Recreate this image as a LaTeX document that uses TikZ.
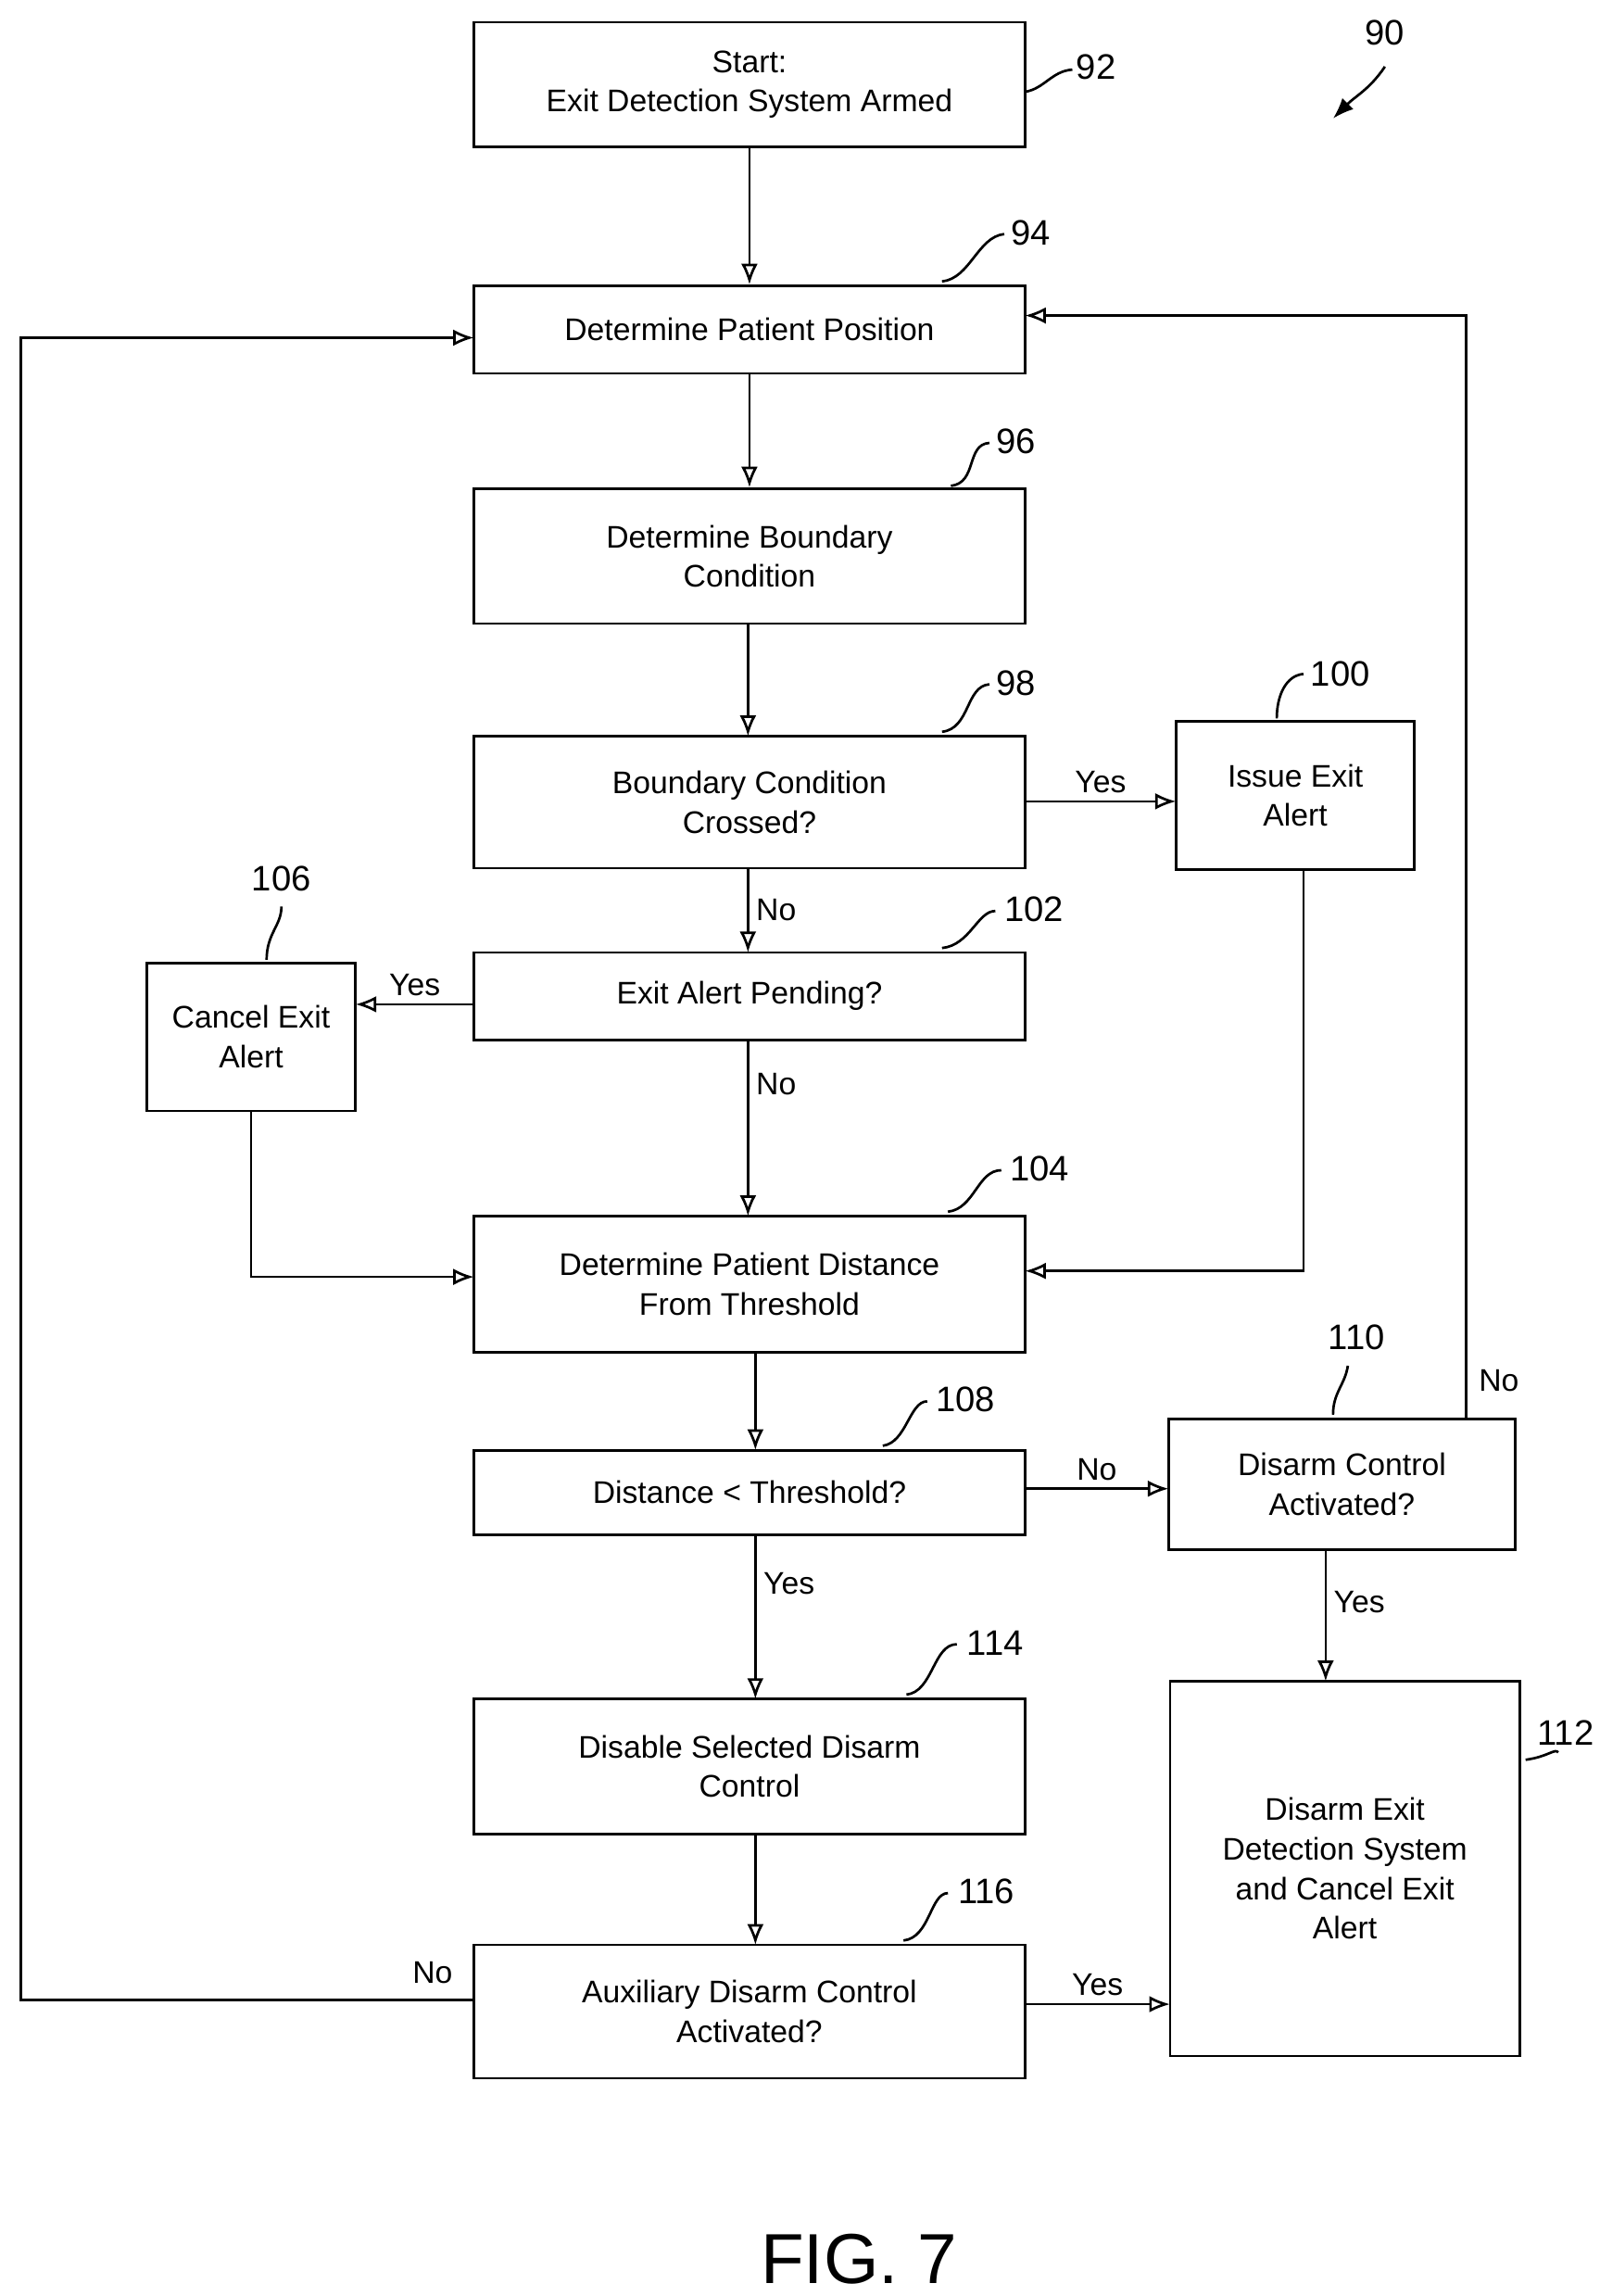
\documentclass[tikz,border=0pt]{standalone}
\usepackage{fontspec}
\setmainfont{Liberation Sans}
\usetikzlibrary{arrows.meta}
\begin{document}
\begin{tikzpicture}[x=0.025cm,y=-0.025cm,
  box/.style={draw,line width=1.2pt,align=center,font=\fontsize{15}{19}\selectfont,inner sep=0pt},
  ar/.style={line width=1.2pt,-{Latex[open,length=10pt,width=8pt]}},
  ln/.style={line width=1.2pt},
  lab/.style={font=\fontsize{15}{18}\selectfont},
  num/.style={font=\fontsize{17}{20}\selectfont}]
\useasboundingbox (0,0) rectangle (1080,1550);
\newcommand\bx[6]{\node[box,minimum width={(#3-#2)*0.025cm},minimum height={(#5-#4)*0.025cm}] (#1) at ({(#2+#3)/2},{(#4+#5)/2}) {#6};}
\bx{b92}{320}{692}{15}{99}{Start:\\Exit Detection System Armed}
\bx{b94}{320}{692}{193}{252}{Determine Patient Position}
\bx{b96}{320}{692}{330}{421}{Determine Boundary\\Condition}
\bx{b98}{320}{692}{497}{586}{Boundary Condition\\Crossed?}
\bx{b100}{794}{955}{487}{587}{Issue Exit\\Alert}
\bx{b102}{320}{692}{643}{702}{Exit Alert Pending?}
\bx{b106}{99}{240}{650}{750}{Cancel Exit\\Alert}
\bx{b104}{320}{692}{821}{913}{Determine Patient Distance\\From Threshold}
\bx{b108}{320}{692}{979}{1036}{Distance < Threshold?}
\bx{b110}{789}{1023}{958}{1046}{Disarm Control\\Activated?}
\bx{b114}{320}{692}{1147}{1238}{Disable Selected Disarm\\Control}
\bx{b112}{790}{1026}{1135}{1388}{Disarm Exit\\Detection System\\and Cancel Exit\\Alert}
\bx{b116}{320}{692}{1313}{1403}{Auxiliary Disarm Control\\Activated?}
% connectors
\draw[ar] (b92.south) -- (b94.north);
\draw[ar] (b94.south) -- (b96.north);
\draw[ar] (505,421) -- (505,497);
\draw[ar] (692,541) -- node[lab,above]{Yes} (794,541);
\draw[ar] (505,586) -- node[lab,right]{No} (505,643);
\draw[ar] (320,678) -- node[lab,above]{Yes} (240,678);
\draw[ar] (505,702) -- node[lab,pos=0.25,right]{No} (505,821);
\coordinate (c1) at (170,862);
\draw[ar] (b106.south) |- (c1) -- (320,862);
\coordinate (c2) at (880,858);
\draw[ar] (880,587) -- (c2) -- (692,858);
\draw[ar] (510,913) -- (510,979);
\draw[ar] (692,1005) -- node[lab,above]{No} (789,1005);
\coordinate (c3) at (990,213);
\draw[ar] (990,958) -- (c3) -- (692,213);
\node[lab] at (1012,932) {No};
\draw[ar] (895,1046) -- node[lab,right,pos=0.4]{Yes} (895,1135);
\draw[ar] (510,1036) -- node[lab,right,pos=0.3]{Yes} (510,1147);
\draw[ar] (510,1238) -- (510,1313);
\draw[ar] (692,1353) -- node[lab,above]{Yes} (790,1353);
\coordinate (c4) at (14,1350);
\coordinate (c5) at (14,228);
\draw[ar] (320,1350) -- (c4) -- (c5) -- (320,228);
\node[lab] at (292,1332) {No};
% reference numerals
\node[num] at (740,45) {92};
\draw[ln] (692,62) .. controls (705,60) and (710,48) .. (724,47);
\node[num] at (696,157) {94};
\draw[ln] (636,190) .. controls (655,188) and (660,160) .. (678,158);
\node[num] at (686,298) {96};
\draw[ln] (642,328) .. controls (660,326) and (652,300) .. (668,299);
\node[num] at (686,461) {98};
\draw[ln] (636,494) .. controls (655,492) and (652,463) .. (668,462);
\node[num] at (905,455) {100};
\draw[ln] (862,485) .. controls (862,470) and (868,456) .. (880,455);
\node[num] at (698,614) {102};
\draw[ln] (636,640) .. controls (655,638) and (660,615) .. (672,615);
\node[num] at (190,593) {106};
\draw[ln] (180,648) .. controls (180,630) and (190,625) .. (190,612);
\node[num] at (702,789) {104};
\draw[ln] (640,818) .. controls (658,816) and (660,790) .. (676,790);
\node[num] at (652,945) {108};
\draw[ln] (596,976) .. controls (612,974) and (614,946) .. (626,946);
\node[num] at (916,903) {110};
\draw[ln] (900,955) .. controls (900,940) and (908,935) .. (910,922);
\node[num] at (672,1109) {114};
\draw[ln] (612,1144) .. controls (630,1142) and (630,1110) .. (646,1110);
\node[num] at (1057,1170) {112};
\draw[ln] (1030,1188) .. controls (1045,1186) and (1050,1180) .. (1052,1183);
\node[num] at (666,1277) {116};
\draw[ln] (610,1310) .. controls (628,1308) and (628,1278) .. (640,1278);
\node[num] at (935,22) {90};
\draw[line width=1.2pt,-{Latex[length=10pt]}] (935,45) .. controls (925,60) and (915,65) .. (900,80);
\node[font=\fontsize{34}{38}\selectfont] at (580,1525) {FIG. 7};
\end{tikzpicture}
\end{document}
